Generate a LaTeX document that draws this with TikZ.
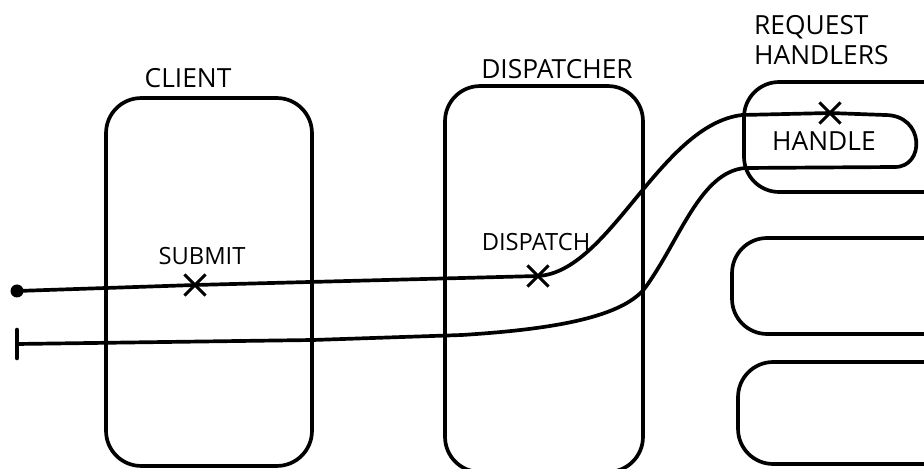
\documentclass[tikz,border=0pt]{standalone}
\usepackage{fontspec}
\setsansfont{Open Sans}
\usetikzlibrary{shapes.misc}

\tikzset{
  pen/.style={line width=2.1pt, line cap=round, line join=round},
  box/.style={pen, draw, rounded corners=20pt, inner sep=0pt},
  xmark/.style={draw, cross out, line width=1.8pt, minimum size=0.36cm, inner sep=0pt},
  title/.style={font=\sffamily\fontsize{15}{17}\selectfont},
  tag/.style={font=\sffamily\fontsize{13.5}{15}\selectfont},
}

\begin{document}
\begin{tikzpicture}[x=0.02cm, y=-0.02cm]
  \useasboundingbox (0,0) rectangle (924,469);
  \clip (0,0) rectangle (924,469);

  % the three columns
  \node[box, minimum width=4.12cm, minimum height=7.36cm] (client) at (209,282) {};
  \node[box, minimum width=3.96cm, minimum height=7.72cm] (dispatcher) at (544,279) {};
  \node[box, minimum width=4.32cm, minimum height=2.20cm] (handlerA) at (852,137) {};
  \node[box, minimum width=4.56cm, minimum height=1.92cm] (handlerB) at (846,286) {};
  \node[box, minimum width=4.44cm, minimum height=2.04cm] (handlerC) at (849,413) {};

  \node[title] (clientlbl) at (188,78) {CLIENT};
  \node[title] (displbl) at (557,69) {DISPATCHER};
  \node[title, align=left, anchor=west] (handlbl) at (748,40) {REQUEST\\HANDLERS};

  % call points
  \node[xmark] (submit) at (195,285) {};
  \node[xmark] (dispatch) at (538,276) {};
  \node[xmark] (handle) at (830,113) {};
  \node[tag] (submitlbl) at (202,256) {SUBMIT};
  \node[tag] (dispatchlbl) at (536,242) {DISPATCH};
  \node[title] (handlelbl) at (824,141) {HANDLE};

  % ends of the call
  \coordinate (in) at (17,291);
  \coordinate (out) at (17,344);
  \fill (in) circle (0.13cm);
  \draw[pen, line width=2.6pt] (out) ++(0,-14) -- ++(0,28);

  % the path of one request, out and back
  \draw[pen] (in) -- (submit.center) -- (dispatch.center)
    .. controls (610,272) and (660,125) .. (742,115) -- (handle.center) -- (885,115)
    .. controls (925,115) and (925,167) .. (895,167) -- (745,168)
    .. controls (700,172) and (680,240) .. (645,288)
    .. controls (620,320) and (540,330) .. (462,335) -- (313,340) -- (out);
\end{tikzpicture}
\end{document}
